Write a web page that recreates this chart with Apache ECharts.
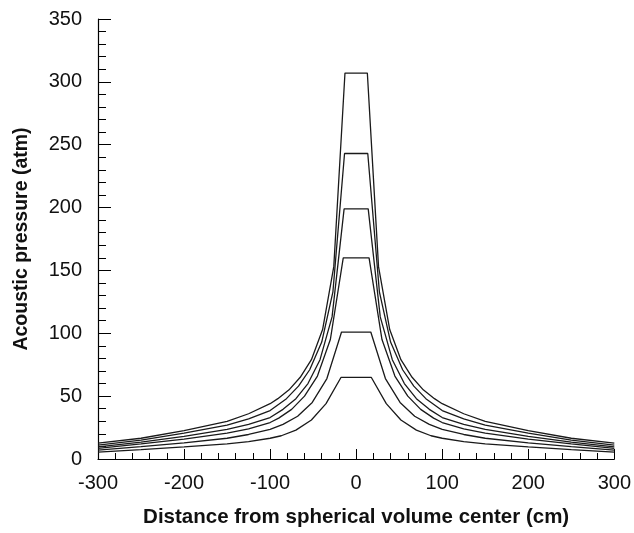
<!DOCTYPE html>
<html>
<head>
<meta charset="utf-8">
<script src="https://cdn.jsdelivr.net/npm/echarts@6/dist/echarts.min.js"></script>
<style>
html,body{margin:0;padding:0;background:#fff;}
#chart{width:634px;height:533px;}
</style>
</head>
<body>
<div id="chart"></div>
<script>
// Distance from center (cm, right half; curves are mirrored about 0) and pressure (atm)
const rA = [13, 26, 39, 52, 65, 78, 91, 100, 125, 150, 200, 250, 300];
const pA = [307, 153, 103, 79, 65, 55, 48, 44, 36, 30, 22.5, 16.5, 12.6];
const rB = [13.5, 27, 40, 54, 67, 81, 100, 125, 150, 200, 250, 300];
const pB = [243, 133, 93, 71, 58, 48, 38.5, 32, 27, 20.5, 15, 11];
const rC = [14, 28, 42, 56, 70, 85, 100, 125, 150, 200, 250, 300];
const pC = [199, 113, 79, 60, 48, 39.5, 33, 27.5, 23.5, 18, 13.5, 9.7];
const rD = [15, 30, 45, 60, 75, 90, 100, 125, 150, 200, 250, 300];
const pD = [160, 95, 66, 50, 39.5, 32.5, 29, 24, 20.5, 15.8, 12, 8.5];
const rE = [17, 34, 51, 68, 85, 100, 125, 150, 200, 250, 300];
const pE = [101, 64, 45, 34, 27.5, 23.5, 19.5, 16.5, 12.8, 9.8, 7.1];
const rF = [17.5, 35, 52, 70, 87, 100, 125, 150, 200, 250, 300];
const pF = [65, 44, 31, 23, 18.5, 16.5, 13.8, 12, 9.6, 7.4, 5.5];

const xTicks = [-300, -200, -100, 0, 100, 200, 300];
const yTicks = [0, 50, 100, 150, 200, 250, 300, 350];

function mirror(r, p) {
  const out = [];
  for (let i = r.length - 1; i >= 0; i--) out.push([-r[i], p[i]]);
  for (let i = 0; i < r.length; i++) out.push([r[i], p[i]]);
  return out;
}
const curves = [[rA, pA], [rB, pB], [rC, pC], [rD, pD], [rE, pE], [rF, pF]];

const chart = echarts.init(document.getElementById('chart'), null, {renderer: 'canvas'});
const font = 'Liberation Sans, Arial, Helvetica, sans-serif';
chart.setOption({
  animation: false,
  backgroundColor: '#fff',
  grid: {left: 98, right: 18, top: 19, bottom: 68, containLabel: false},
  xAxis: {
    type: 'value', min: xTicks[0], max: xTicks[xTicks.length - 1], interval: 100,
    axisLine: {show: true, onZero: false, lineStyle: {color: '#000', width: 1.2}},
    axisTick: {show: true, inside: true, length: 10, lineStyle: {color: '#000', width: 1}},
    minorTick: {show: true, splitNumber: 5, length: 6, lineStyle: {color: '#000', width: 1}},
    splitLine: {show: false},
    axisLabel: {color: '#111', fontSize: 20, fontFamily: font, margin: 14},
    name: 'Distance from spherical volume center (cm)',
    nameLocation: 'middle', nameGap: 48,
    nameTextStyle: {color: '#111', fontSize: 20.5, fontWeight: 'bold', fontFamily: font}
  },
  yAxis: {
    type: 'value', min: yTicks[0], max: yTicks[yTicks.length - 1], interval: 50,
    axisLine: {show: true, onZero: false, lineStyle: {color: '#000', width: 1.2}},
    axisTick: {show: true, inside: true, length: 13, lineStyle: {color: '#000', width: 1}},
    minorTick: {show: true, splitNumber: 5, length: 8, lineStyle: {color: '#000', width: 1}},
    splitLine: {show: false},
    axisLabel: {color: '#111', fontSize: 20, fontFamily: font, margin: 16},
    name: 'Acoustic pressure (atm)',
    nameLocation: 'middle', nameGap: 66, nameRotate: 90,
    nameTextStyle: {color: '#111', fontSize: 19.5, fontWeight: 'bold', fontFamily: font}
  },
  series: curves.map(c => ({
    type: 'line', data: mirror(c[0], c[1]), showSymbol: false, symbol: 'none',
    lineStyle: {color: '#1a1a1a', width: 1.3}, smooth: false
  }))
});
</script>
</body>
</html>
